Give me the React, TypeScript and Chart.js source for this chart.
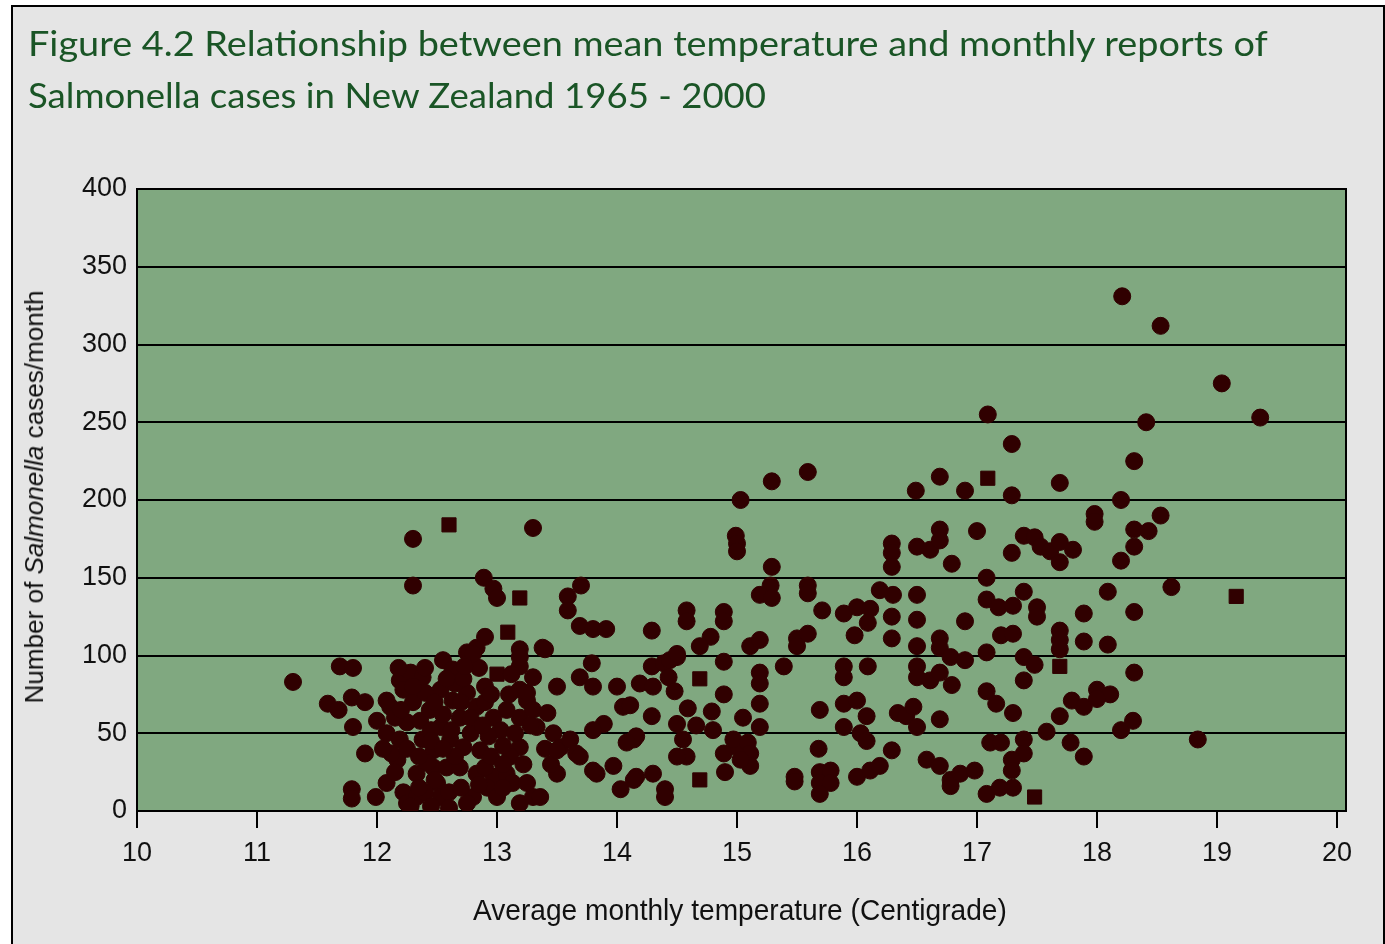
import React, { useEffect, useLayoutEffect, useRef, useState } from 'react';
import { Chart, registerables } from 'chart.js';

Chart.register(...registerables);

// ---------- Data ----------
const titleLines = [
  'Figure 4.2 Relationship between mean temperature and monthly reports of',
  'Salmonella cases in New Zealand 1965 - 2000',
];
const xAxisTitle = 'Average monthly temperature (Centigrade)';

const xMin = 10;
const xMax = 20.075;
const xStep = 1;
const yMin = 0;
const yMax = 400;
const yStep = 50;

// Monthly observations drawn as round markers: average temperature (°C)
const circleTemps = [
  11.30, 11.69, 11.80, 11.59, 11.68, 11.79, 11.90, 11.80, 11.90, 11.79, 11.79, 11.99, 12.08,
  12.30, 12.30, 12.22, 12.25, 12.17, 12.12, 12.08, 12.00, 12.11, 12.08, 12.19, 12.28, 12.38, 12.22, 12.25, 12.19, 12.36, 12.44, 12.38, 12.33, 12.47, 12.50, 12.53, 12.33, 12.28,
  12.55, 12.63, 12.75, 12.83, 12.69, 12.53, 12.63, 12.75, 12.83, 12.69, 12.53, 12.61, 12.78, 12.72, 12.86, 12.47, 12.42, 12.58, 12.69, 12.83, 12.97, 12.80, 12.92,
  13.08, 13.13, 13.00, 13.19, 13.30, 13.19, 13.19, 13.30, 13.38, 13.50, 13.19, 13.25, 13.08, 12.97, 13.03, 13.19, 13.30, 13.42, 13.33, 13.47, 13.53, 13.19, 13.11, 13.25, 13.50, 13.36,
  12.05, 12.15, 12.30, 12.40, 12.45, 12.55, 12.65, 12.90, 12.90, 12.93, 13.05, 12.60, 12.70, 12.90, 12.40, 12.65,
  12.15, 12.25, 12.35, 12.45, 12.55, 12.62, 12.70, 12.78, 12.88, 12.95, 13.05, 13.15, 13.22, 13.40, 13.45, 12.20, 12.30, 12.48, 12.58, 12.72, 12.85, 13.10, 13.28, 12.35, 12.45, 12.60, 12.75, 12.85, 13.05, 12.95, 13.12, 12.18, 12.40, 12.48,
  13.30, 12.89, 12.97, 13.00, 13.59, 13.70, 13.59, 13.69, 13.80, 13.91, 14.29, 12.90, 13.40, 12.80, 13.19, 13.79, 12.73, 14.29, 13.69, 13.80, 14.00, 14.19, 13.25, 14.05, 14.29, 13.89, 13.80, 13.61, 14.14, 13.50, 13.66, 13.83, 13.97, 14.03, 14.16, 14.30,
  14.58, 14.58, 14.89, 14.89, 14.78, 14.69, 14.89, 14.50, 14.39, 14.43, 14.30, 14.48, 14.89, 14.11, 14.59, 14.79, 15.05, 14.50, 14.66, 14.80, 14.16, 14.08, 14.55, 14.58, 14.50, 15.00, 14.89, 15.08, 13.69, 13.80, 14.14, 14.40, 14.40, 14.90,
  15.59, 15.29, 15.03, 14.99, 15.00, 15.00, 15.29, 15.28, 15.19, 15.29, 15.59, 15.59, 15.71, 16.29, 16.29, 16.29, 16.19, 16.30, 15.89, 16.00, 16.11, 16.09, 15.98, 16.29, 16.29, 15.11, 15.19, 15.50, 15.59, 15.50, 14.44, 14.50, 15.19, 15.19, 15.39, 15.89, 15.89, 16.09, 15.19, 15.19, 15.69, 15.89, 16.00, 16.08, 15.89, 16.03, 16.08, 16.34, 14.97, 15.09, 15.11, 15.11, 15.03, 15.68, 15.48, 15.48, 15.69, 15.78, 15.69, 15.78, 15.69, 16.00, 16.11, 16.19, 16.29,
  17.09, 17.29, 16.69, 16.49, 16.90, 17.29, 17.69, 18.20, 17.98, 17.98, 16.50, 16.61, 16.69, 16.69, 16.79, 17.00, 17.29, 17.39, 17.48, 17.53, 17.61, 17.69, 17.80, 17.69, 18.20, 16.50, 17.08, 17.08, 17.18, 17.30, 17.39, 17.50, 17.50, 17.89, 18.09, 16.50, 16.90, 17.20, 17.30, 17.69, 17.69, 17.69, 17.89, 18.09, 16.50, 16.69, 16.69, 16.78, 16.90, 17.08, 17.39, 17.48, 17.39, 16.50, 16.50, 16.61, 16.69, 16.79, 17.08, 17.16, 17.30, 17.69, 17.79, 17.89, 18.00, 18.11, 16.41, 16.47, 16.50, 16.69, 17.58, 18.20, 16.58, 16.69, 16.78, 16.86, 16.98, 16.78, 17.11, 17.20, 17.39, 17.39, 17.29, 17.29, 17.78, 17.89, 17.08, 17.19, 17.30,
  18.21, 18.53, 19.04, 18.41, 19.36, 18.31, 18.53, 18.31, 18.43, 18.31, 18.62, 18.31, 18.31, 18.30, 18.84, 18.00,
];

// Monthly Salmonella reports for the round markers (cases/month)
const circleCases = [
  83, 93, 92, 69, 65, 73, 70, 54, 37, 14, 8, 9, 18,
  175, 145, 12, 5, 33, 37, 50, 58, 67, 71, 84, 89, 86, 78, 57, 46, 58, 65, 46, 24, 28, 18, 9, 9, 3,
  97, 91, 102, 105, 89, 78, 71, 76, 67, 60, 54, 46, 50, 41, 39, 39, 31, 28, 28, 24, 22, 9, 15,
  24, 18, 9, 5, 9, 104, 93, 86, 105, 80, 78, 71, 65, 60, 52, 60, 65, 63, 54, 50, 41, 41, 35, 18, 24, 9,
  40, 60, 70, 76, 52, 62, 82, 80, 70, 48, 42, 12, 15, 28, 12, 35,
  25, 40, 35, 45, 40, 52, 70, 60, 55, 35, 30, 50, 30, 40, 30, 65, 80, 70, 85, 85, 92, 75, 55, 15, 3, 2, 5, 17, 15, 75, 88, 92, 92, 20,
  182, 150, 143, 137, 138, 145, 129, 119, 117, 117, 116, 112, 104, 101, 99, 95, 93, 93, 86, 80, 80, 82, 76, 67, 61, 56, 52, 46, 46, 39, 37, 24, 29, 14, 22, 24,
  129, 122, 128, 122, 112, 106, 96, 99, 95, 86, 80, 77, 75, 68, 66, 64, 60, 56, 55, 52, 48, 44, 46, 35, 35, 41, 37, 33, 35, 26, 20, 14, 9, 25,
  218, 212, 200, 177, 172, 167, 157, 145, 139, 137, 145, 140, 129, 172, 166, 157, 142, 139, 127, 131, 130, 121, 113, 125, 111, 106, 110, 111, 114, 106, 97, 101, 89, 82, 93, 93, 86, 93, 69, 54, 65, 69, 71, 61, 54, 50, 45, 63, 46, 44, 37, 29, 33, 40, 22, 19, 25, 26, 18, 18, 11, 22, 26, 29, 39,
  255, 236, 215, 206, 206, 203, 211, 200, 191, 186, 170, 168, 181, 174, 159, 180, 166, 177, 176, 170, 167, 173, 168, 160, 161, 139, 150, 136, 131, 132, 141, 131, 125, 127, 141, 123, 122, 113, 114, 116, 110, 104, 109, 107, 106, 111, 105, 99, 97, 102, 99, 94, 84, 93, 86, 84, 89, 81, 77, 69, 63, 61, 71, 67, 78, 75, 61, 67, 54, 59, 51, 52, 33, 29, 20, 24, 26, 16, 44, 44, 46, 37, 33, 26, 44, 35, 11, 15, 15,
  331, 312, 275, 250, 253, 225, 190, 181, 180, 170, 144, 128, 89, 58, 46, 72,
];

// Observations that the reference draws with square markers
const squareTemps = [12.60, 13.00, 13.19, 13.09, 14.69, 14.69, 17.09, 17.69, 17.48, 19.16];
const squareCases = [184, 88, 137, 115, 85, 20, 214, 93, 9, 138];

// ---------- Styling ----------
const FRAME_BG = '#e5e5e5';
const PLOT_GREEN = '#80a880';
const MARK = '#300000';
const TITLE_GREEN = '#1a5526';
const TICK_FONT = { family: "'Liberation Sans', Arial, sans-serif", size: 27 };

function FitText(props: { target: number; style: React.CSSProperties; children: React.ReactNode; rotated?: boolean }) {
  const ref = useRef<HTMLSpanElement>(null);
  const [s, setS] = useState(1);
  useLayoutEffect(() => {
    if (ref.current) {
      const w = ref.current.offsetWidth;
      if (w > 0) setS(props.target / w);
    }
  }, [props.target]);
  const transform = props.rotated
    ? `translate(-50%, -50%) rotate(-90deg) scaleX(${s})`
    : `scaleX(${s})`;
  return (
    <span
      ref={ref}
      style={{
        position: 'absolute',
        display: 'inline-block',
        whiteSpace: 'nowrap',
        transformOrigin: props.rotated ? '50% 50%' : '0 50%',
        transform,
        ...props.style,
      }}
    >
      {props.children}
    </span>
  );
}

export default function App() {
  const canvasRef = useRef<HTMLCanvasElement>(null);

  useEffect(() => {
    if (!canvasRef.current) return;
    const plotFrame = {
      id: 'plotFrame',
      beforeDraw(chart: any) {
        const { ctx, chartArea: a } = chart;
        ctx.save();
        ctx.fillStyle = PLOT_GREEN;
        ctx.fillRect(a.left, a.top, a.right - a.left, a.bottom - a.top);
        ctx.restore();
      },
      afterDraw(chart: any) {
        const { ctx, chartArea: a } = chart;
        ctx.save();
        ctx.strokeStyle = '#000';
        ctx.lineWidth = 2;
        ctx.beginPath();
        ctx.moveTo(a.right, a.top - 1);
        ctx.lineTo(a.right, a.bottom + 1);
        ctx.stroke();
        ctx.restore();
      },
    };

    const chart = new Chart(canvasRef.current, {
      type: 'scatter',
      data: {
        datasets: [
          {
            label: 'Monthly reports',
            data: circleTemps.map((t, i) => ({ x: t, y: circleCases[i] })),
            pointStyle: 'circle',
            pointRadius: 8.5,
            borderWidth: 1,
            backgroundColor: MARK,
            borderColor: MARK,
          },
          {
            label: 'Monthly reports (square marker)',
            data: squareTemps.map((t, i) => ({ x: t, y: squareCases[i] })),
            pointStyle: 'rect',
            pointRadius: 10,
            borderWidth: 1,
            backgroundColor: MARK,
            borderColor: MARK,
          },
        ],
      },
      options: {
        animation: false,
        responsive: false,
        maintainAspectRatio: false,
        layout: { padding: { top: 189, right: 39, bottom: 0, left: 0 } },
        plugins: {
          legend: { display: false },
          tooltip: { enabled: false },
          title: { display: false },
        },
        scales: {
          x: {
            type: 'linear',
            min: xMin,
            max: xMax,
            afterFit: (s: any) => {
              s.height = 133;
            },
            ticks: {
              stepSize: xStep,
              includeBounds: false,
              color: '#111',
              font: TICK_FONT,
              padding: 9,
              maxRotation: 0,
              autoSkip: false,
            },
            grid: {
              drawOnChartArea: false,
              drawTicks: true,
              tickLength: 17,
              color: '#000',
              tickColor: '#000',
              lineWidth: 2,
              tickWidth: 2,
            },
            border: { display: true, color: '#000', width: 2 },
          },
          y: {
            type: 'linear',
            min: yMin,
            max: yMax,
            afterFit: (s: any) => {
              s.width = 137;
            },
            ticks: {
              stepSize: yStep,
              color: '#111',
              font: TICK_FONT,
              padding: 10,
            },
            grid: {
              drawTicks: false,
              color: '#000',
              lineWidth: 2,
            },
            border: { display: true, color: '#000', width: 2 },
          },
        },
      },
      plugins: [plotFrame],
    } as any);

    return () => chart.destroy();
  }, []);

  return (
    <div
      style={{
        position: 'fixed',
        left: 0,
        top: 0,
        width: 1385,
        height: 944,
        overflow: 'hidden',
        background: '#fff',
      }}
    >
      <div
        style={{
          position: 'absolute',
          left: 11,
          top: 5,
          width: 1374,
          height: 1000,
          boxSizing: 'border-box',
          border: '2px solid #000',
          background: FRAME_BG,
        }}
      />
      <canvas
        ref={canvasRef}
        width={1385}
        height={944}
        style={{ position: 'absolute', left: 0, top: 0, width: 1385, height: 944 }}
      />
      <FitText
        target={1240}
        style={{
          left: 28,
          top: 24,
          fontFamily: "Lato, 'Noto Sans', sans-serif",
          fontSize: 35,
          lineHeight: '36px',
          color: TITLE_GREEN,
        }}
      >
        {titleLines[0]}
      </FitText>
      <FitText
        target={738}
        style={{
          left: 28,
          top: 76,
          fontFamily: "Lato, 'Noto Sans', sans-serif",
          fontSize: 35,
          lineHeight: '36px',
          color: TITLE_GREEN,
        }}
      >
        {titleLines[1]}
      </FitText>
      <div style={{ position: 'absolute', left: 34, top: 497, width: 0, height: 0 }}>
        <FitText
          target={413}
          rotated
          style={{
            left: 0,
            top: 0,
            fontFamily: "'Liberation Sans', Arial, sans-serif",
            fontSize: 26,
            lineHeight: '28px',
            color: '#111',
          }}
        >
          Number of <i>Salmonella</i> cases/month
        </FitText>
      </div>
      <FitText
        target={534}
        style={{
          left: 473,
          top: 894,
          fontFamily: "'Liberation Sans', Arial, sans-serif",
          fontSize: 29,
          lineHeight: '32px',
          color: '#111',
        }}
      >
        {xAxisTitle}
      </FitText>
    </div>
  );
}
